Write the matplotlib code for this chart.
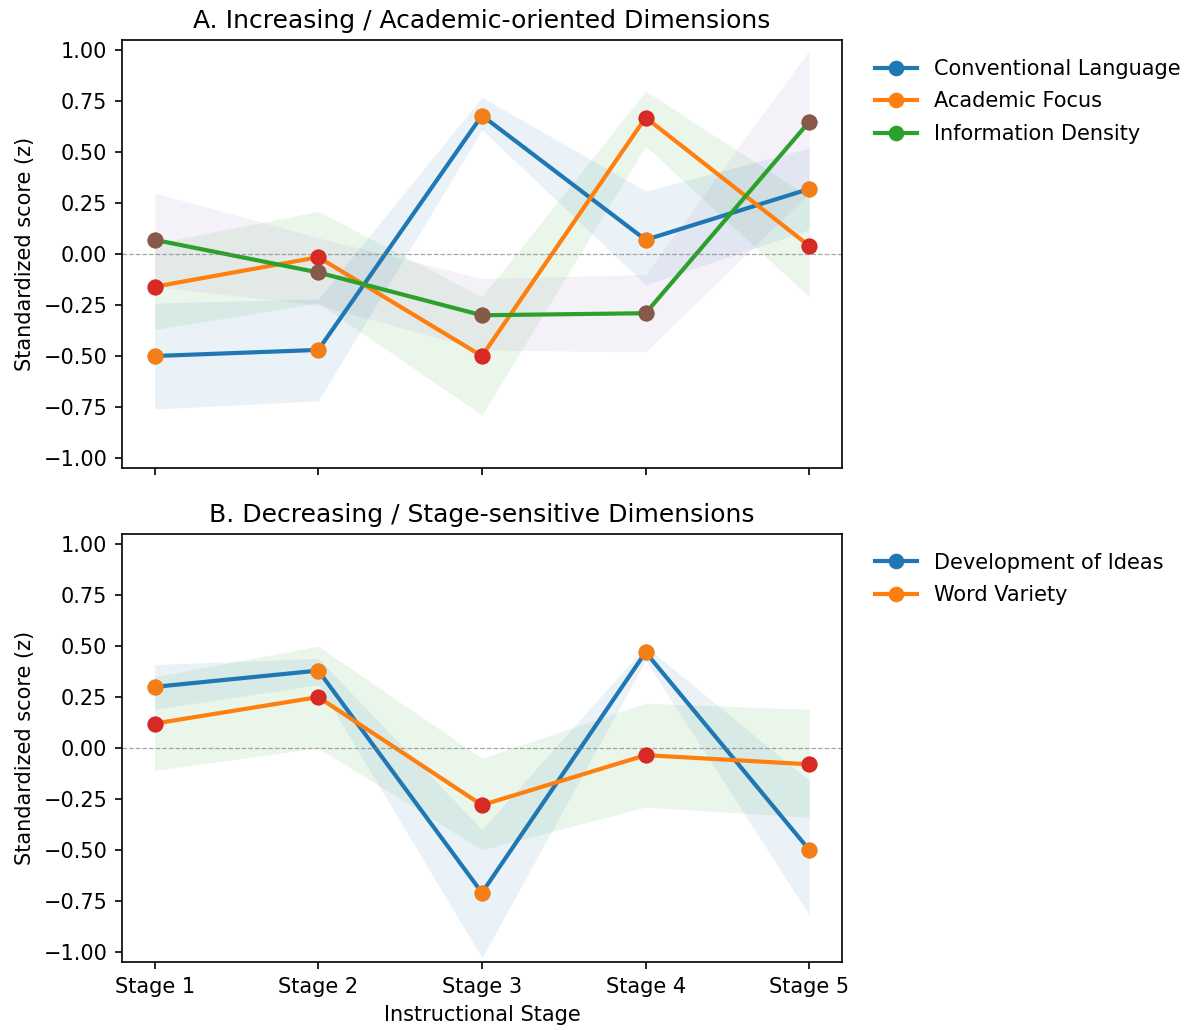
import matplotlib
matplotlib.use("Agg")
import matplotlib.pyplot as plt
import numpy as np

stages = ["Stage 1", "Stage 2", "Stage 3", "Stage 4", "Stage 5"]

# panel A
dims_a = ["Conventional Language", "Academic Focus", "Information Density"]
mean_a = [
    [-0.50, -0.47, 0.68, 0.07, 0.32],
    [-0.16, -0.015, -0.50, 0.67, 0.04],
    [0.07, -0.09, -0.30, -0.29, 0.65],
]
low_a = [
    [-0.76, -0.72, 0.61, -0.15, 0.12],
    [-0.37, -0.24, -0.79, 0.53, -0.21],
    [-0.16, -0.25, -0.47, -0.48, 0.30],
]
high_a = [
    [-0.24, -0.22, 0.77, 0.31, 0.52],
    [0.05, 0.21, -0.21, 0.80, 0.28],
    [0.30, 0.08, -0.12, -0.10, 1.00],
]

# panel B
dims_b = ["Development of Ideas", "Word Variety"]
mean_b = [
    [0.30, 0.38, -0.71, 0.47, -0.50],
    [0.12, 0.25, -0.28, -0.035, -0.08],
]
low_b = [
    [0.19, 0.31, -1.03, 0.43, -0.82],
    [-0.11, 0.0, -0.50, -0.29, -0.34],
]
high_b = [
    [0.41, 0.44, -0.40, 0.50, -0.16],
    [0.35, 0.50, -0.05, 0.22, 0.19],
]

tab = plt.rcParams["axes.prop_cycle"].by_key()["color"]


def draw_panel(ax, names, means, lows, highs, title):
    x = np.arange(1, len(stages) + 1)
    for i, name in enumerate(names):
        ax.plot(x, means[i], marker="o", color=tab[i], lw=2, ms=6.5, label=name, zorder=2)
        ax.fill_between(x, lows[i], highs[i], color=tab[2 * i], alpha=0.09, lw=0)
        ax.scatter(x, means[i], color=tab[2 * i + 1], s=46, alpha=0.95, zorder=3)
    ax.axhline(0, color="gray", ls="--", lw=0.6, alpha=0.7)
    ax.set_ylim(-1.05, 1.05)
    ax.set_yticks(np.arange(-1.0, 1.01, 0.25))
    ax.set_ylabel("Standardized score (z)")
    ax.set_title(title, fontsize=12)
    ax.legend(loc="upper left", bbox_to_anchor=(1.02, 1.0), frameon=False,
              labelspacing=0.6)


fig, (ax1, ax2) = plt.subplots(2, 1, sharex=True, figsize=(7.967, 6.867), dpi=150)
fig.subplots_adjust(left=0.102, right=0.7046, top=0.961, bottom=0.066, hspace=0.154)

draw_panel(ax1, dims_a, mean_a, low_a, high_a, "A. Increasing / Academic-oriented Dimensions")
draw_panel(ax2, dims_b, mean_b, low_b, high_b, "B. Decreasing / Stage-sensitive Dimensions")

ax2.set_xticks(np.arange(1, len(stages) + 1))
ax2.set_xticklabels(stages)
ax2.set_xlabel("Instructional Stage")

fig.savefig("out.png", dpi=150)
